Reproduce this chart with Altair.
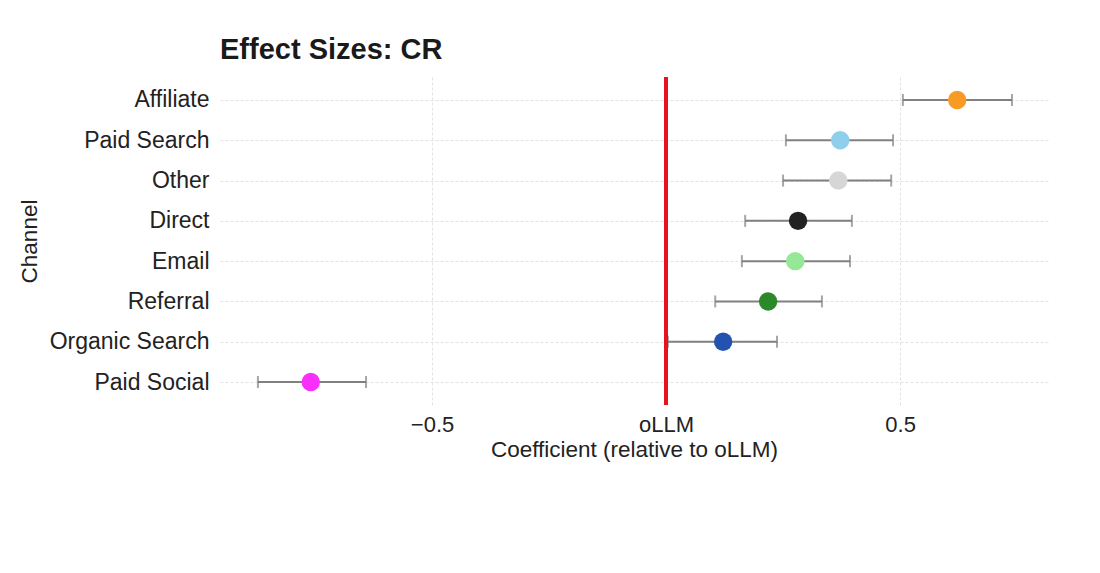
import pandas as pd
import altair as alt

# Data
channels = ['Affiliate', 'Paid Search', 'Other', 'Direct', 'Email', 'Referral', 'Organic Search', 'Paid Social']
coef = [0.622, 0.372, 0.368, 0.282, 0.276, 0.218, 0.122, -0.759]
ci_low = [0.506, 0.256, 0.250, 0.169, 0.162, 0.105, 0.004, -0.872]
ci_high = [0.739, 0.485, 0.481, 0.397, 0.393, 0.333, 0.237, -0.641]
colors = ['#f99a25', '#8fcfec', '#d6d6d6', '#222222', '#95e895', '#2a8a2a', '#2452b0', '#fb2ffb']

df = pd.DataFrame({'Channel': channels, 'coef': coef, 'lo': ci_low, 'hi': ci_high})

font = 'Liberation Sans'

x_scale = alt.Scale(domain=[-0.953, 0.816], nice=False, zero=False)
y_enc = alt.Y('Channel:N', sort=channels, title='Channel',
              scale=alt.Scale(type='point', padding=0.57),
              axis=alt.Axis(grid=True))

base = alt.Chart(df)

# fejlstreger med endestykker
bars = base.mark_rule(color='#808080', strokeWidth=2).encode(
    x=alt.X('lo:Q', scale=x_scale), x2='hi:Q', y=y_enc
)
cap_lo = base.mark_tick(color='#808080', size=12, thickness=2).encode(
    x=alt.X('lo:Q', scale=x_scale), y=y_enc
)
cap_hi = base.mark_tick(color='#808080', size=12, thickness=2).encode(
    x=alt.X('hi:Q', scale=x_scale), y=y_enc
)

# referencelinje ved oLLM
ref_line = alt.Chart(df).mark_rule(color='#e8141b', strokeWidth=3.5).encode(
    x=alt.datum(0)
)

points = base.mark_circle(size=340, opacity=1).encode(
    x=alt.X('coef:Q', scale=x_scale, title='Coefficient (relative to oLLM)',
            axis=alt.Axis(values=[-0.5, 0, 0.5],
                          labelExpr="datum.value == 0 ? 'oLLM' : (datum.value < 0 ? '\u2212' + format(-datum.value, '.1f') : format(datum.value, '.1f'))")),
    y=y_enc,
    color=alt.Color('Channel:N', scale=alt.Scale(domain=channels, range=colors), legend=None),
    tooltip=['Channel', 'coef', 'lo', 'hi']
)

chart = alt.layer(bars, cap_lo, cap_hi, ref_line, points).properties(
    width=828,
    height=328,
    autosize=alt.AutoSizeParams(type='none'),
    padding={'left': 212, 'top': 69, 'right': 40, 'bottom': 150},
    title=alt.TitleParams('Effect Sizes: CR', anchor='start', frame='group', font=font,
                          fontSize=29, fontWeight='bold', color='#1a1a1a', offset=10)
).configure_view(
    stroke=None
).configure_axis(
    labelFont=font, titleFont=font, labelFontSize=22, titleFontSize=22.5,
    labelColor='#222222', titleColor='#222222', titleFontWeight='normal',
    domain=False, ticks=False,
    gridColor='#e2e2e2', gridDash=[3, 2], gridWidth=1
).configure_axisY(
    labelPadding=11, titlePadding=8, labelFontSize=23
).configure_axisX(
    labelPadding=9, titlePadding=3
)

chart.save("out.html", embed_options={"renderer": "svg", "actions": False})
